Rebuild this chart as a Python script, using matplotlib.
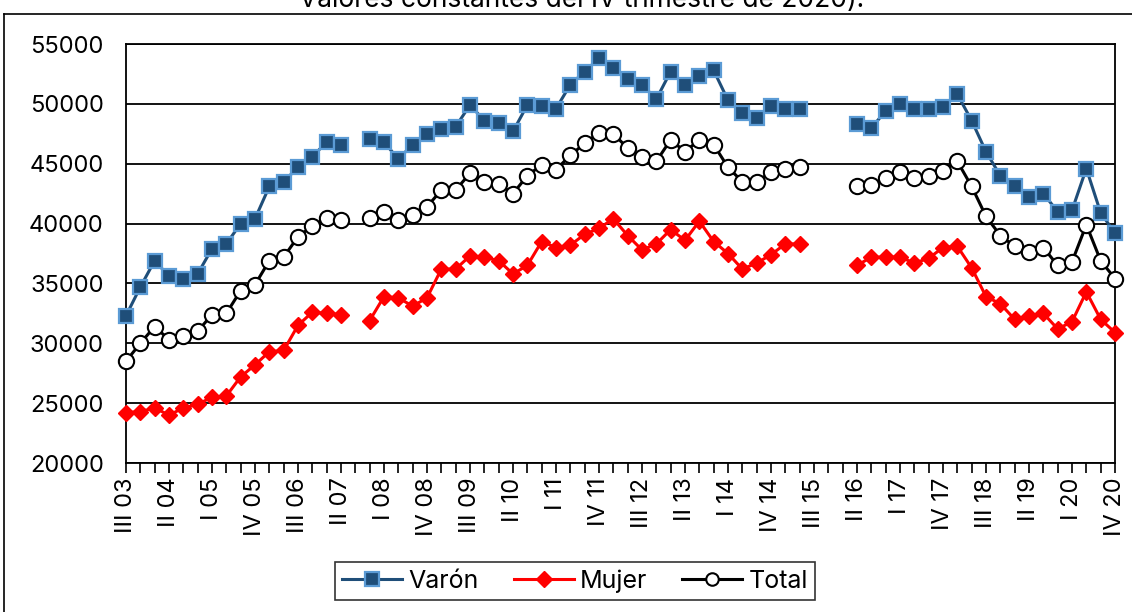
import numpy as np
import matplotlib.pyplot as plt
from matplotlib.lines import Line2D

plt.rcParams['font.family'] = ['Inter', 'DejaVu Sans']

nan = np.nan

# quarters III 2003 .. IV 2020 (70 points)
roman = ['I', 'II', 'III', 'IV']
quarters = []
for k in range(70):
    q = (2 + k) % 4
    yr = 2003 + (2 + k) // 4
    quarters.append(f"{roman[q]} {yr % 100:02d}")

varon = [32300, 34700, 36900, 35600, 35400, 35800, 37900, 38300, 40000, 40400,
         43100, 43500, 44700, 45600, 46800, 46600, nan, 47100, 46800, 45400,
         46600, 47500, 47900, 48100, 49900, 48600, 48400, 47700, 49900, 49800,
         49600, 51600, 52700, 53800, 53000, 52100, 51600, 50400, 52700, 51600,
         52300, 52800, 50300, 49200, 48800, 49800, 49600, 49600, nan, nan,
         nan, 48300, 48000, 49400, 50000, 49600, 49600, 49700, 50800, 48600,
         46000, 44000, 43100, 42200, 42500, 41000, 41100, 44600, 40900, 39200]

mujer = [24200, 24300, 24600, 24000, 24600, 24900, 25500, 25600, 27200, 28200,
         29300, 29400, 31500, 32600, 32500, 32400, nan, 31900, 33900, 33800,
         33100, 33800, 36200, 36200, 37300, 37200, 36900, 35800, 36500, 38500,
         38000, 38200, 39100, 39600, 40400, 39000, 37800, 38300, 39500, 38600,
         40200, 38500, 37500, 36200, 36700, 37400, 38300, 38300, nan, nan,
         nan, 36500, 37200, 37200, 37200, 36700, 37100, 38000, 38100, 36300,
         33900, 33300, 32000, 32300, 32500, 31200, 31800, 34300, 32000, 30900]

total = [28500, 30000, 31400, 30300, 30600, 31000, 32400, 32500, 34400, 34900,
         36900, 37200, 38900, 39800, 40500, 40300, nan, 40500, 41000, 40300,
         40700, 41400, 42800, 42800, 44200, 43500, 43300, 42500, 44000, 44900,
         44500, 45700, 46700, 47600, 47500, 46300, 45600, 45200, 47000, 46000,
         47000, 46600, 44700, 43500, 43500, 44300, 44600, 44700, nan, nan,
         nan, 43100, 43200, 43800, 44300, 43800, 44000, 44400, 45200, 43100,
         40600, 39000, 38100, 37600, 38000, 36500, 36800, 39900, 36900, 35400]

x = np.arange(len(quarters))

fig = plt.figure(figsize=(11.32, 6.12), dpi=100)
ax = fig.add_axes([126/1132, 1-463/612, (1115-126)/1132, (463-44)/612])

ax.plot(x, varon, color='#1F4E79', lw=2.2, marker='s', ms=10,
        mfc='#1F4E79', mec='#5B9BD5', mew=1.6, label='Varón', zorder=3, clip_on=False)
ax.plot(x, mujer, color='#FF0000', lw=2.2, marker='D', ms=8,
        mfc='#FF0000', mec='#FF0000', label='Mujer', zorder=3, clip_on=False)
ax.plot(x, total, color='black', lw=2.2, marker='o', ms=11,
        mfc='white', mec='black', mew=1.5, label='Total', zorder=3, clip_on=False)

ax.set_xlim(0, len(x) - 1)
ax.set_ylim(20000, 55000)
ax.set_yticks(np.arange(20000, 55001, 5000))
ax.yaxis.grid(True, color='black', lw=1.3)
ax.tick_params(axis='y', length=0, labelsize=17, pad=16)
ax.set_xticks(x, minor=True)
ax.set_xticks(x[::3])
ax.set_xticklabels(quarters[::3], rotation=90, fontsize=17)
ax.tick_params(axis='x', which='both', length=7, width=1.2, direction='out')
for s in ax.spines.values():
    s.set_linewidth(1.3)

handles = [Line2D([], [], color='#1F4E79', lw=2.2, marker='s', ms=10, mfc='#1F4E79', mec='#5B9BD5', mew=1.6),
           Line2D([], [], color='#FF0000', lw=2.2, marker='D', ms=8, mfc='#FF0000', mec='#FF0000'),
           Line2D([], [], color='black', lw=2.2, marker='o', ms=9, mfc='white', mec='black', mew=1.5)]
leg = fig.legend(handles, ['Varón', 'Mujer', 'Total'], loc='center', bbox_to_anchor=(575/1132, 1-581/612),
                 ncol=3, fontsize=18, frameon=True, fancybox=False, edgecolor='black',
                 handlelength=2.4, columnspacing=1.4, handletextpad=0.25, borderpad=0.3)
leg.get_frame().set_linewidth(1.2)

# outer chart border
fig.add_artist(Line2D([4/1132, 4/1132], [0, 1-14/612], color='black', lw=1.2))
fig.add_artist(Line2D([4/1132, 1], [1-14/612, 1-14/612], color='black', lw=1.2))

fig.text(582/1132, 1.0, 'Valores constantes del IV trimestre de 2020).', ha='center',
         va='center', fontsize=19)

fig.savefig('out.png', dpi=100)
